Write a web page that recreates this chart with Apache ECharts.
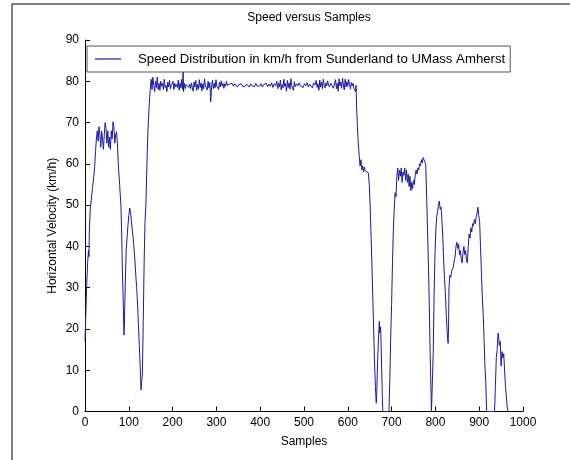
<!DOCTYPE html>
<html>
<head>
<meta charset="utf-8">
<script src="https://cdn.jsdelivr.net/npm/echarts@6/dist/echarts.min.js"></script>
<style>html,body{margin:0;padding:0;background:#fff}#c{width:570px;height:460px}</style>
</head>
<body>
<div id="c"></div>
<script>
const chartTitle = 'Speed versus Samples';
const seriesName = 'Speed Distribution in km/h from Sunderland to UMass Amherst';
const xTicks = [0, 100, 200, 300, 400, 500, 600, 700, 800, 900, 1000];
const yTicks = [0, 10, 20, 30, 40, 50, 60, 70, 80, 90];

// [sample, speed km/h]
const startSegment = [
  [0,17],[2,24],[4,31],[6,36],[8,39],[9,37.5],[10,44],[12,49],[14,51],[17,54],[20,57],[22,59],[24,63],[26,66],[28,68],
  [30,65.5],[32,69],[34,67],[36,64],[38,68],[40,66],[42,63.5],[44,67],[46,70],[48,68.5],[50,65],[52,68],[54,64],
  [56,66.5],[58,63.5],[60,68],[62,66],[64,70.2],[66,69],[68,65],[70,67],[72,67.8],[74,65],[76,60],[79,55],[82,50],
  [84,42],[85,36],[87,28],[89,18.5],[90,21],[92,31],[94,39],[96,42],[98,45],[100,47.5],[102,49.3],[104,48.5],
  [106,46],[108,44],[110,42],[113,38],[116,33],[118,30],[120,26],[122,21],[124,16],[126,11],[127,8],[128,5.2],
  [129,7],[131,9],[133,22],[135,36],[137,46],[139,50],[141,58],[143,66],[145,71],[147,75],[149,78]
];
const plateauSegment = [
  [151,80.5],[153,78],[155,81],[157,79],[159,77.5],[161,80],[163,78.5],[165,81],[167,78],[169,79.5],[171,77.8],
  [173,80],[175,78.8],[177,79.5],[179,78],[181,80.5],[183,78.5],[185,79],[187,77.5],[189,79.8],[191,78.6],[193,80.2],
  [195,78.2],[197,79],[199,78.8],[201,80],[203,78],[205,79.5],[207,78.7],[209,79.2],[211,78.5],[213,80.3],[215,77.8],
  [217,79.6],[219,78.4],[221,80.5],[223,78],[224,82.3],[225,77.5],[227,79.5],[229,78.3],[231,79.2],[233,78.8],
  [235,79],[237,78.5],[239,79.3],[241,78.2],[243,79.6],[245,78.4],[247,77.6],[249,79.8],[251,78.6],[253,80.2],
  [255,77.8],[257,79.2],[259,78.1],[261,80.4],[263,78.5],[265,79.6],[267,77.7],[269,79.4],[271,78.2],[273,80.6],
  [275,78.9],[277,79.3],[279,77.9],[281,80],[283,78.4],[285,79.7],[287,75],[289,78.6],[291,80.3],[293,78.2],
  [295,79.5],[297,78.4],[299,80.4],[301,78.8],[303,79.2],[305,78],[307,79.8],[309,78.6],[311,80.1],[313,78.9],
  [315,79.5],[317,78.3],[319,79.4],[321,78.8],[323,80],[325,79],[327,78.6],[330,79.3],[333,78.9],[336,79.5],
  [339,78.8],[342,79.4],[345,79],[348,78.6],[351,79.2],[354,78.9],[357,79.4],[360,78.7],[363,79.1],[366,78.8],
  [369,79.3],[372,79],[375,78.6],[378,79.4],[381,78.9],[384,79.2],[387,78.7],[390,79.5],[393,78.8],[396,79.1],
  [399,78.9],[402,79.4],[405,78.6],[408,79.2],[411,78.9],[414,79.5],[417,78.7],[420,79.3],[423,78.8],[426,79.6],
  [429,78.5],[432,79.4],[435,78.9],[438,80],[440,78.2],[442,79.5],[444,78.6],[446,80.3],[448,77.9],[450,79.2],
  [452,78.4],[454,80.5],[456,78.8],[458,79.4],[460,77.6],[462,80.2],[464,78.5],[466,79.6],[468,78.1],[470,80.6],
  [472,78.9],[474,79.3],[476,77.8],[478,79.9],[480,78.7],[483,79.4],[486,78.9],[489,79.6],[492,78.8],[495,79.2],
  [498,78.5],[501,79.4],[504,78.9],[507,79.7],[510,78.6],[513,79.3],[516,79],[519,78.4],[522,79.6],[525,79.1],
  [528,80.2],[530,78.5],[532,79.4],[534,77.8],[536,80.3],[538,78.6],[540,79.8],[542,78.2],[544,80.5],[546,79],
  [548,78.4],[550,79.6],[552,78.9],[554,80.1],[556,79.2],[558,78.6],[561,79.5],[564,79],[567,78.3],[570,79.6],
  [572,80.4],[574,78.2],[576,79.5],[578,77.6],[580,80.6],[582,78.9],[584,79.8],[586,78.3],[588,80.8],[590,79.1],
  [592,77.9],[594,80.5],[596,78.6],[598,79.9],[600,78.8],[602,80.4],[604,79.3],[606,78.1],[608,79.7],[610,78.9],
  [612,79.5],[614,78.2],[616,78.5],[618,77.5],[619,79]
];
const endSegment = [
  [620,74],[622,69],[624,65],[626,62],[628,59.5],[630,61],[632,58.5],[634,59.5],[636,58],[638,59.2],[640,58.3],
  [644,58.5],[647,57.8],[649,55],[651,50],[653,43],[655,36],[657,28],[659,20],[661,12],[663,6],[665,2],[666,4],
  [668,12],[670,17.5],[672,21.8],[673,19],[675,20.5],[677,12],[679,3],[680,0],[694,0],[696,8],[698,18],[700,26],
  [702,36],[704,44],[706,49],[708,53],[710,52],[712,57],[714,59],[716,56],[718,58.5],[720,57],[722,59],[724,55.5],
  [726,58],[728,57.2],[730,59],[732,56],[734,58.5],[736,55.5],[738,57.5],[740,54.5],[742,57],[744,53.5],[746,55.5],
  [748,54],[750,56],[752,55],[754,57.5],[756,58.5],[758,57.5],[760,59],[762,58.5],[764,60],[766,59.5],[768,61],
  [770,60.2],[772,61.5],[774,61.8],[776,60.5],[778,59.8],[780,52],[782,44],[784,36],[786,26],[788,14],[790,5],
  [791,0],[793,0],[795,14],[797,28],[799,38],[801,44],[803,47],[805,48.5],[807,50],[809,51],[811,49],[813,49.5],
  [815,46],[817,42],[819,36],[821,32],[823,28],[825,23],[827,19],[829,16.5],[830,20],[831,30],[833,33],[835,32.5],
  [837,34],[839,34.5],[841,35],[843,36.5],[845,37.5],[847,40],[849,41],[851,39.5],[853,40.5],[855,38],[857,39],
  [859,37],[861,36],[863,38.5],[865,40],[867,38],[869,39],[871,36.5],[873,36],[875,40],[877,43],[879,42],[881,44.5],
  [883,43.5],[885,45.5],[887,45],[889,46.5],[891,45.5],[893,47],[895,48],[897,49.5],[899,47.5],[901,46],[903,40],
  [905,34],[907,28],[909,24],[911,18],[913,11],[915,7],[917,0],[935,0],[937,6],[939,13],[941,15],[943,19],
  [944,18.5],[946,16],[948,17],[950,11],[952,14.5],[954,13],[956,14],[958,10],[960,6],[962,3.5],[964,1],[966,0]
];
const speedPoints = startSegment.concat(plateauSegment, endSegment);

const chart = echarts.init(document.getElementById('c'), null, {renderer: 'canvas'});
const font = 'Liberation Sans, Arial, sans-serif';
const lineColor = '#1a1aa2';
chart.setOption({
  animation: false,
  backgroundColor: '#fff',
  textStyle: {fontFamily: font},
  grid: {left: 85, right: 47, top: 40, bottom: 48.5, containLabel: false},
  graphic: [
    {type: 'rect', shape: {x: 12, y: 4, width: 700, height: 600}, style: {fill: 'none', stroke: '#000', lineWidth: 1}, silent: true},
    {type: 'text', x: 309, y: 18, style: {text: chartTitle, fill: '#000', font: '12px ' + font, textAlign: 'center', textVerticalAlign: 'middle'}}
  ],
  legend: {
    left: 87, top: 46, padding: [6, 5, 6, 8],
    borderColor: '#555', borderWidth: 1, backgroundColor: '#fff',
    icon: 'rect', itemWidth: 26, itemHeight: 1.2, itemGap: 10,
    textStyle: {color: '#000', fontSize: 13.2, fontFamily: font, padding: [0, 0, 0, 12], lineHeight: 14},
    data: [{name: seriesName, icon: 'rect', itemStyle: {color: lineColor}}]
  },
  xAxis: {
    type: 'value', min: xTicks[0], max: xTicks[xTicks.length - 1], interval: 100,
    name: 'Samples', nameLocation: 'middle', nameGap: 24, nameMoveOverlap: false,
    nameTextStyle: {color: '#000', fontSize: 12, fontFamily: font},
    axisLine: {show: true, lineStyle: {color: '#000', width: 1}},
    axisTick: {show: true, inside: true, length: 5, lineStyle: {color: '#000'}},
    axisLabel: {color: '#000', fontSize: 12, margin: 5, fontFamily: font, formatter: v => String(v)},
    splitLine: {show: false}
  },
  yAxis: {
    type: 'value', min: yTicks[0], max: yTicks[yTicks.length - 1], interval: 10,
    name: 'Horizontal Velocity (km/h)', nameLocation: 'middle', nameGap: 26, nameRotate: 90, nameMoveOverlap: false,
    nameTextStyle: {color: '#000', fontSize: 12, fontFamily: font},
    axisLine: {show: true, lineStyle: {color: '#000', width: 1}},
    axisTick: {show: true, inside: true, length: 5, lineStyle: {color: '#000'}},
    axisLabel: {color: '#000', fontSize: 12, margin: 6, fontFamily: font, formatter: v => String(v)},
    splitLine: {show: false}
  },
  series: [{
    name: seriesName, type: 'line', data: speedPoints,
    showSymbol: false, symbol: 'none',
    lineStyle: {color: lineColor, width: 1},
    itemStyle: {color: lineColor},
    clip: true
  }]
});
</script>
</body>
</html>
